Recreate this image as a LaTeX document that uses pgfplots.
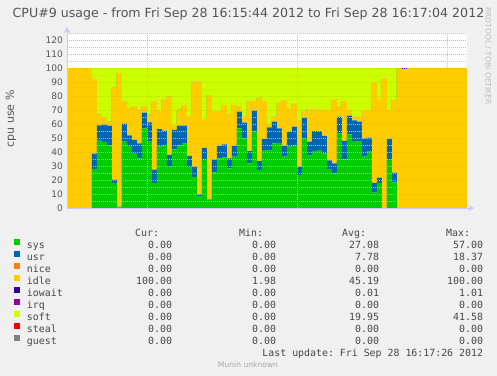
\documentclass[border=0pt]{standalone}
\usepackage{fontspec}
\setmainfont{DejaVu Sans}
\setmonofont{DejaVu Sans Mono}
\usepackage{pgfplots}
\usepackage{pgfplotstable}
\pgfplotsset{compat=1.18}
\usetikzlibrary{arrows.meta}

\definecolor{bg}{HTML}{F0F0F0}
\definecolor{sysc}{HTML}{00CC00}
\definecolor{usrc}{HTML}{0066B3}
\definecolor{nicec}{HTML}{FF8000}
\definecolor{idlec}{HTML}{FFCC00}
\definecolor{iowc}{HTML}{330099}
\definecolor{irqc}{HTML}{990099}
\definecolor{softc}{HTML}{CCFF00}
\definecolor{stealc}{HTML}{FF0000}
\definecolor{guestc}{HTML}{808080}
\definecolor{txt}{HTML}{555555}
\definecolor{axc}{HTML}{C8C8FF}
\definecolor{mgrid}{HTML}{E8A0A0}
\definecolor{ngrid}{HTML}{C4C4C4}

\newcommand{\row}[5]{\rlap{#1}\makebox[145bp][r]{#2}\makebox[104bp][r]{#3}\makebox[103bp][r]{#4}\makebox[104bp][r]{#5}}

\pgfplotstableread{
x sys usr idle iow soft
0 0 0 100 0 0
1 0 0 100 0 0
2 0 0 100 0 0
3 0 0 100 0 0
4 0 0 100 0 0
5 27.7 11.1 53.0 0 8.2
6 48.2 10.8 7.6 0 33.4
7 47.2 12.4 4.7 0 35.7
8 44.8 14.0 2.7 0 38.5
9 17.7 2.6 65.5 0 14.2
10 0.5 0.5 95.4 0 3.6
11 47.5 12.8 15.7 0 24.0
12 44.4 7.4 19.0 0 29.2
13 39.2 9.5 23.9 0 27.4
14 35.5 10.6 24.1 0 29.8
15 56.9 11.2 4.5 0 27.4
16 47.4 13.7 5.5 0 33.4
17 17.7 9.8 48.5 0 24.0
18 43.9 12.5 13.4 0 30.2
19 45.1 10.2 22.3 0 22.4
20 29.6 8.3 41.4 0 20.7
21 41.9 13.9 3.3 0 40.9
22 44.8 14.0 11.3 0 29.9
23 46.0 12.8 14.4 0 26.8
24 29.4 7.8 28.2 0 34.6
25 22.2 7.4 60.6 0 9.8
26 8.2 1.6 80.4 0 9.8
27 35.0 8.0 20.5 0 36.5
28 6.2 0.0 74.5 0 19.3
29 25.5 9.3 34.0 0 31.2
30 35.5 9.0 24.3 0 31.2
31 36.2 9.3 28.0 0 26.5
32 28.3 7.2 32.1 0 32.4
33 36.7 7.8 29.0 0 26.5
34 56.9 11.9 4.0 0 27.2
35 49.7 11.3 4.2 0 34.8
36 31.9 8.8 35.7 0 23.6
37 54.5 15.0 6.9 0 23.6
38 27.1 6.4 45.3 0 21.2
39 41.4 7.9 27.1 0 23.6
40 40.9 16.7 1.7 0 40.7
41 46.2 15.5 3.5 0 34.8
42 46.6 10.3 18.5 0 24.6
43 36.7 7.8 32.6 0 22.9
44 43.8 10.7 16.7 0 28.8
45 44.5 13.6 16.6 0 25.3
46 23.6 5.9 33.3 0 37.2
47 49.7 14.8 4.3 0 31.2
48 37.4 10.0 23.1 0 29.5
49 40.7 14.3 15.5 0 29.5
50 41.4 13.6 15.5 0 29.5
51 39.0 12.6 18.4 0 30.0
52 27.8 6.2 36.0 0 30.0
53 24.7 7.2 45.7 0 22.4
54 53.3 11.9 7.2 0 27.6
55 34.7 13.3 28.4 0 23.6
56 52.6 13.3 4.1 0 30.0
57 48.0 14.6 2.6 0 34.8
58 47.4 14.3 3.5 0 34.8
59 36.7 13.0 20.3 0 30.0
60 40.2 10.0 19.8 0 30.0
61 10.9 7.1 71.8 0 10.2
62 18.0 3.7 55.9 0 22.4
63 0 0 92.6 0 7.4
64 35.0 14.3 20.7 0 30.0
65 18.3 6.9 51.8 0 23.0
66 0 0 100 0 0
67 0 0 98.99 1.01 0
68 0 0 100 0 0
69 0 0 100 0 0
70 0 0 100 0 0
71 0 0 100 0 0
72 0 0 100 0 0
73 0 0 100 0 0
74 0 0 100 0 0
75 0 0 100 0 0
76 0 0 100 0 0
77 0 0 100 0 0
78 0 0 100 0 0
79 0 0 100 0 0
80 0 0 100 0 0
}\cpu

\begin{document}
\begin{tikzpicture}
\useasboundingbox (0,0) rectangle (497bp,-376bp);
\fill[bg] (0,0) rectangle (497bp,-376bp);
\begin{axis}[
  at={(67bp,-208bp)}, anchor=south west,
  scale only axis, width=400bp, height=175bp,
  xmin=0, xmax=80, ymin=0, ymax=125,
  axis on top,
  axis background/.style={fill=white},
  axis x line=bottom, axis y line=left,
  axis line style={draw=axc, line width=1bp},
  x axis line style={-{Stealth[length=6bp,width=6bp]}, shorten >=-7bp},
  y axis line style={-{Stealth[length=6bp,width=6bp]}, shorten >=-6bp},
  xtick={16,46,76}, xticklabels={},
  ytick={0,10,...,120},
  minor ytick={5,15,...,125},
  major tick length=0pt, minor tick length=0pt,
  xmajorgrids, ymajorgrids, yminorgrids,
  major x grid style={ngrid, line width=0.7bp, dash pattern=on 1bp off 1bp},
  major y grid style={mgrid, line width=0.7bp, dash pattern=on 1bp off 1bp},
  minor y grid style={ngrid, line width=0.7bp, dash pattern=on 1bp off 1bp},
  /pgf/number format/assume math mode=true,
  yticklabel style={font=\fontsize{9bp}{10bp}\selectfont, text=txt, inner xsep=0pt, xshift=-4bp},
  ylabel={cpu use \%},
  ylabel style={at={(axis description cs:-0.14,0.5086)}, anchor=center, font=\fontsize{11bp}{13bp}\selectfont, text=txt},
  stack plots=y,
  legend columns=1,
  legend cell align=left,
  legend image code/.code={\fill[#1] (0bp,0bp) rectangle (6bp,6bp);},
  legend style={at={(axis description cs:-0.1325,-0.10857)}, anchor=north west,
    draw=none, fill=none, inner sep=0pt, outer sep=0pt,
    row sep=0pt, column sep=7bp,
    font=\ttfamily\fontsize{9.9bp}{12bp}\selectfont, text=black!72,
    nodes={inner xsep=0pt, inner ysep=1bp, text height=8bp, text depth=2bp, outer sep=0pt}},
]
\addlegendimage{empty legend}
\addlegendentry{\row{}{Cur:\hspace{13bp}}{Min:\hspace{13bp}}{Avg:\hspace{13bp}}{Max:\hspace{13bp}}}
\addplot[fill=sysc, draw=none, const plot] table[x=x, y=sys] {\cpu} \closedcycle;
\addlegendentry{\row{sys}{0.00}{0.00}{27.08}{57.00}}
\addplot[fill=usrc, draw=none, const plot] table[x=x, y=usr] {\cpu} \closedcycle;
\addlegendentry{\row{usr}{0.00}{0.00}{7.78}{18.37}}
\addlegendimage{fill=nicec, draw=none}
\addlegendentry{\row{nice}{0.00}{0.00}{0.00}{0.00}}
\addplot[fill=idlec, draw=none, const plot] table[x=x, y=idle] {\cpu} \closedcycle;
\addlegendentry{\row{idle}{100.00}{1.98}{45.19}{100.00}}
\addplot[fill=iowc, draw=none, const plot] table[x=x, y=iow] {\cpu} \closedcycle;
\addlegendentry{\row{iowait}{0.00}{0.00}{0.01}{1.01}}
\addlegendimage{fill=irqc, draw=none}
\addlegendentry{\row{irq}{0.00}{0.00}{0.00}{0.00}}
\addplot[fill=softc, draw=none, const plot] table[x=x, y=soft] {\cpu} \closedcycle;
\addlegendentry{\row{soft}{0.00}{0.00}{19.95}{41.58}}
\addlegendimage{fill=stealc, draw=none}
\addlegendentry{\row{steal}{0.00}{0.00}{0.00}{0.00}}
\addlegendimage{fill=guestc, draw=none}
\addlegendentry{\row{guest}{0.00}{0.00}{0.00}{0.00}}
\addlegendimage{empty legend}
\addlegendentry{\makebox[456bp][r]{Last update: Fri Sep 28 16:17:26 2012}}
\end{axis}
\node[text=txt, font=\fontsize{12.6bp}{15bp}\selectfont] at (248.5bp,-14bp) {CPU\#9 usage - from Fri Sep 28 16:15:44 2012 to Fri Sep 28 16:17:04 2012};
\node[text=black!25, font=\fontsize{7.6bp}{9bp}\selectfont, rotate=-90] at (488bp,-56bp) {RRDTOOL / TOBI OETIKER};
\node[text=black!35, font=\fontsize{7.6bp}{9bp}\selectfont] at (248bp,-365bp) {Munin unknown};
\end{tikzpicture}
\end{document}
